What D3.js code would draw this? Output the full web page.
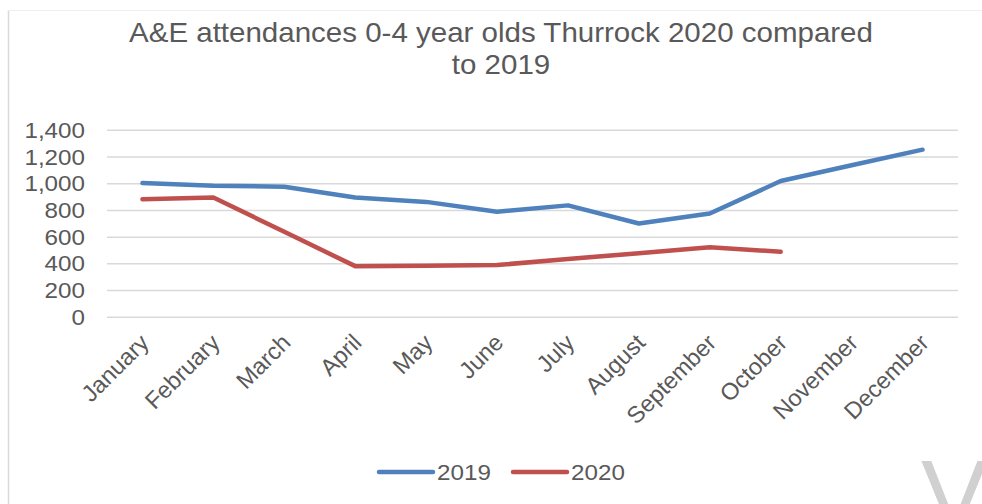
<!DOCTYPE html>
<html>
<head>
<meta charset="utf-8">
<script src="https://cdn.jsdelivr.net/npm/d3@7"></script>
<style>
  html, body { margin: 0; padding: 0; background: #fff; }
  svg { display: block; }
  text { font-family: "Liberation Sans", Arial, sans-serif; fill: #595959; }
</style>
</head>
<body>
<svg id="chart" width="982" height="504"></svg>
<script>
const months = ["January","February","March","April","May","June","July","August","September","October","November","December"];
const values2019 = [1005, 985, 978, 897, 864, 790, 838, 702, 777, 1020, 1138, 1255];
const values2020 = [884, 897, 640, 383, 386, 391, 437, 480, 525, 490];
const yTicks = [0, 200, 400, 600, 800, 1000, 1200, 1400];
const seriesNames = ["2019", "2020"];
const seriesColors = ["#4F81BD", "#C0504D"];
const titleLines = ["A&E attendances 0-4 year olds Thurrock 2020 compared", "to 2019"];

const svg = d3.select("#chart");
const W = 982, H = 504;
const plot = { left: 107, right: 958, top: 130.3, bottom: 317.3 };
const stretch = 1.1;

function widen(sel) {
  sel.each(function () {
    const w = this.getComputedTextLength();
    d3.select(this).attr("textLength", w * stretch).attr("lengthAdjust", "spacingAndGlyphs");
  });
}

// frame borders
svg.append("line").attr("x1", 8.5).attr("x2", 8.5).attr("y1", 10).attr("y2", H)
  .attr("stroke", "#d9d9d9").attr("stroke-width", 1.5);
svg.append("line").attr("x1", 8).attr("x2", W).attr("y1", 10.5).attr("y2", 10.5)
  .attr("stroke", "#f0f0f0").attr("stroke-width", 1);

const x = d3.scaleBand().domain(months).range([plot.left, plot.right]);
const y = d3.scaleLinear().domain([0, 1400]).range([plot.bottom, plot.top]);

// gridlines
svg.append("g").selectAll("line").data(yTicks).join("line")
  .attr("x1", plot.left).attr("x2", plot.right)
  .attr("y1", d => y(d)).attr("y2", d => y(d))
  .attr("stroke", "#d9d9d9").attr("stroke-width", 1.5);

// y axis labels
const yAxis = svg.append("g").attr("transform", `translate(${plot.left},0)`)
  .call(d3.axisLeft(y).tickValues(yTicks).tickFormat(d3.format(",")).tickSize(0).tickPadding(22));
yAxis.select(".domain").remove();
yAxis.selectAll("text").style("font-size", "22px").attr("fill", "#595959")
  .attr("font-family", "Liberation Sans, Arial, sans-serif");
widen(yAxis.selectAll("text"));

// x axis labels (rotated)
const xg = svg.append("g");
xg.selectAll("text").data(months).join("text")
  .attr("transform", d => `translate(${x(d) + x.bandwidth() / 2 + 2},${plot.bottom + 21}) rotate(-45)`)
  .attr("text-anchor", "end")
  .attr("dy", "0.35em")
  .style("font-size", "23.5px")
  .text(d => d);

// lines
const line = d3.line().x((d, i) => x(months[i]) + x.bandwidth() / 2).y(d => y(d));
[values2019, values2020].forEach((vals, k) => {
  svg.append("path").datum(vals)
    .attr("d", line)
    .attr("fill", "none")
    .attr("stroke", seriesColors[k])
    .attr("stroke-width", 4.5)
    .attr("stroke-linecap", "round")
    .attr("stroke-linejoin", "round");
});

// title
const title = svg.append("g");
titleLines.forEach((t, i) => {
  title.append("text")
    .attr("x", 501).attr("y", 42 + i * 31.5)
    .attr("text-anchor", "middle")
    .style("font-size", "28.5px")
    .text(t);
});
widen(title.selectAll("text").filter((d, i) => false));
title.selectAll("text").each(function () {
  const w = this.getComputedTextLength();
  d3.select(this).attr("textLength", w * 1.035).attr("lengthAdjust", "spacingAndGlyphs");
});

// legend
const legendX = [379, 513];
const lg = svg.append("g");
seriesNames.forEach((n, i) => {
  lg.append("line")
    .attr("x1", legendX[i]).attr("x2", legendX[i] + 54)
    .attr("y1", 472).attr("y2", 472)
    .attr("stroke", seriesColors[i]).attr("stroke-width", 4.5)
    .attr("stroke-linecap", "round");
  lg.append("text")
    .attr("x", legendX[i] + 58).attr("y", 480)
    .style("font-size", "22px")
    .text(n);
});
widen(lg.selectAll("text"));

// watermark fragment
svg.append("text").attr("x", 921).attr("y", 530)
  .style("font-size", "100px").style("fill", "#d0d0d0")
  .text("V");
</script>
</body>
</html>
